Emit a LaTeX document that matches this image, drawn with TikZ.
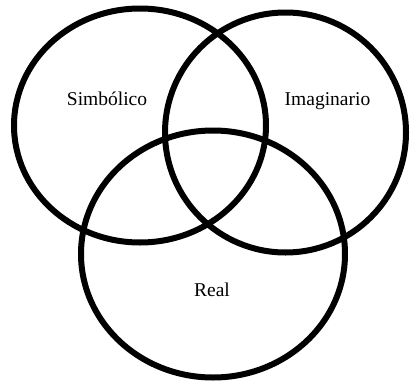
\documentclass[tikz,border=0pt]{standalone}
\usepackage{fontspec}
\setmainfont{Liberation Serif}
\usetikzlibrary{shapes.geometric}
\tikzset{
  ring/.style={ellipse, draw=black, line width=6pt, inner sep=0pt, fill=none},
  lbl/.style={font=\fontsize{19.5pt}{22pt}\selectfont, anchor=base, inner sep=0pt}
}
\begin{document}
\begin{tikzpicture}[x=1pt,y=-1pt]
\useasboundingbox (0,0) rectangle (410,383);
\node[ring, minimum width=252pt, minimum height=234pt] (simb) at (140,125.5) {};
\node[ring, minimum width=241pt, minimum height=240pt] (imag) at (285.5,132.5) {};
\node[ring, minimum width=264pt, minimum height=247pt] (real) at (213,254) {};
\node[lbl] (tsimb) at (107,105) {Simbólico};
\node[lbl] (timag) at (327.5,105) {Imaginario};
\node[lbl] (treal) at (212,296) {Real};
\end{tikzpicture}
\end{document}
